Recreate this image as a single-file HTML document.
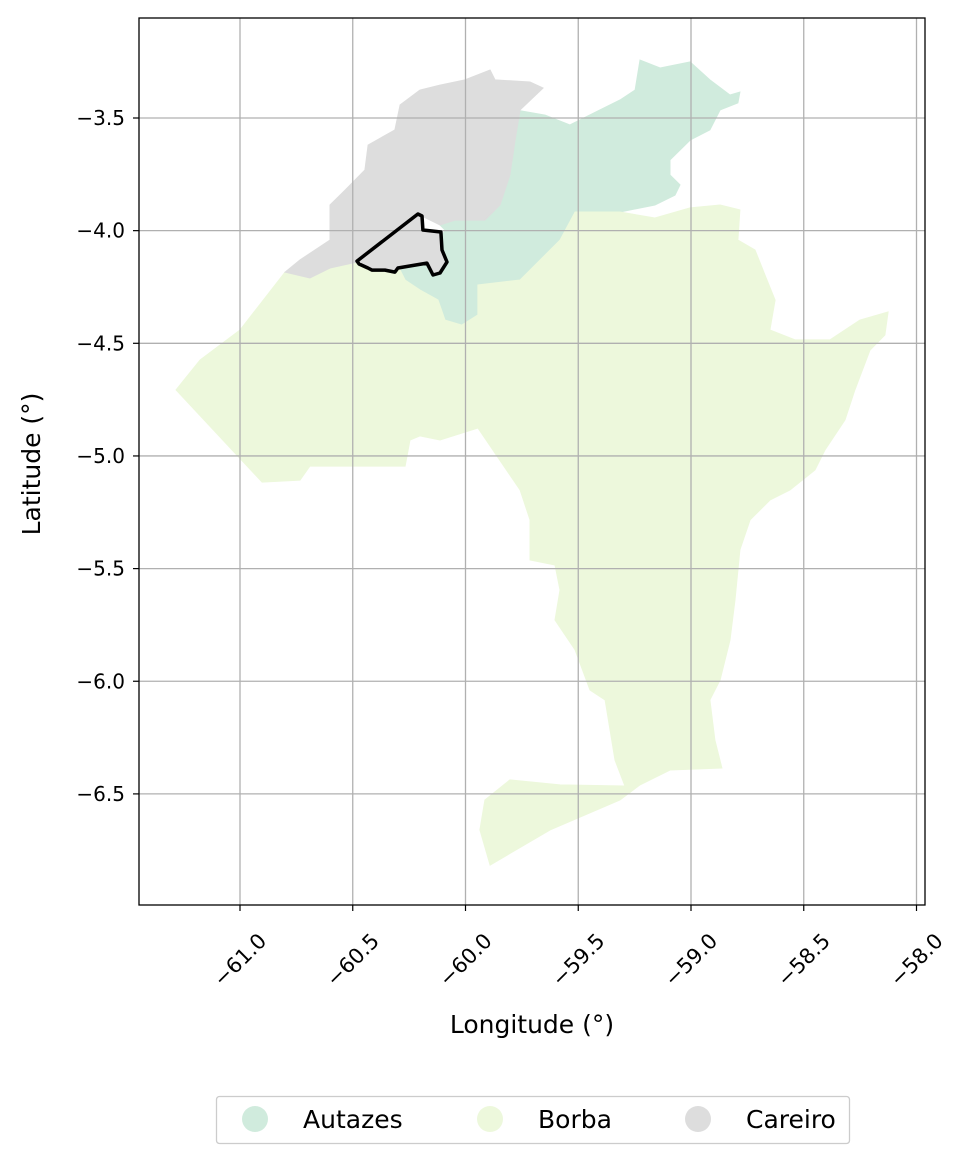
<!DOCTYPE html>
<html><head><meta charset="utf-8"><style>
body{margin:0;background:#fff;}
svg{display:block;font-family:"DejaVu Sans","Liberation Sans",sans-serif;}
</style></head><body>
<svg id="chart" width="974" height="1163"></svg>
<script>
const xTicks=[-61.0,-60.5,-60.0,-59.5,-59.0,-58.5,-58.0];
const yTicks=[-3.5,-4.0,-4.5,-5.0,-5.5,-6.0,-6.5];
const regionNames=["Autazes","Borba","Careiro"];
const regionColors=["#d0ebdd","#edf8dc","#dddddd"];
const autazesLon=[-59.780,-59.647,-59.537,-59.404,-59.315,-59.248,-59.226,-59.137,-59.004,-58.916,-58.827,-58.783,-58.792,-58.871,-58.916,-59.004,-59.093,-59.093,-59.049,-59.071,-59.160,-59.315,-59.514,-59.581,-59.758,-59.945,-59.945,-60.016,-60.091,-60.122,-60.202,-60.268,-60.290,-60.157,-60.113,-60.091,-60.113,-60.047,-59.914,-59.847,-59.803,-59.780];
const autazesLat=[-3.464,-3.487,-3.531,-3.464,-3.420,-3.376,-3.243,-3.278,-3.251,-3.331,-3.398,-3.385,-3.433,-3.464,-3.553,-3.598,-3.686,-3.753,-3.797,-3.842,-3.886,-3.917,-3.917,-4.042,-4.219,-4.241,-4.374,-4.419,-4.397,-4.308,-4.263,-4.219,-4.175,-4.086,-4.042,-3.997,-3.975,-3.953,-3.953,-3.886,-3.753,-3.598];
const borbaLon=[-61.284,-61.177,-61.000,-60.800,-60.690,-60.601,-60.481,-60.290,-60.268,-60.202,-60.122,-60.091,-60.016,-59.945,-59.945,-59.758,-59.581,-59.514,-59.315,-59.160,-59.004,-58.871,-58.783,-58.792,-58.716,-58.672,-58.627,-58.650,-58.539,-58.384,-58.251,-58.126,-58.140,-58.206,-58.273,-58.317,-58.406,-58.450,-58.561,-58.650,-58.738,-58.783,-58.805,-58.827,-58.871,-58.916,-58.894,-58.863,-59.093,-59.226,-59.315,-59.625,-59.891,-59.936,-59.914,-59.803,-59.581,-59.293,-59.337,-59.381,-59.448,-59.514,-59.603,-59.581,-59.603,-59.714,-59.714,-59.758,-59.945,-60.113,-60.202,-60.246,-60.268,-60.690,-60.734,-60.902];
const borbaLat=[-4.707,-4.574,-4.441,-4.184,-4.210,-4.166,-4.139,-4.175,-4.219,-4.263,-4.308,-4.397,-4.419,-4.374,-4.241,-4.219,-4.042,-3.917,-3.917,-3.944,-3.899,-3.886,-3.908,-4.042,-4.086,-4.197,-4.308,-4.441,-4.485,-4.485,-4.397,-4.361,-4.463,-4.530,-4.707,-4.840,-4.974,-5.062,-5.151,-5.196,-5.284,-5.417,-5.639,-5.817,-5.994,-6.083,-6.261,-6.385,-6.394,-6.460,-6.527,-6.660,-6.816,-6.660,-6.527,-6.438,-6.460,-6.465,-6.350,-6.083,-6.039,-5.861,-5.728,-5.595,-5.484,-5.462,-5.284,-5.151,-4.876,-4.929,-4.911,-4.929,-5.045,-5.045,-5.107,-5.116];
const careiroLon=[-60.800,-60.734,-60.601,-60.601,-60.534,-60.446,-60.432,-60.313,-60.290,-60.202,-60.113,-60.002,-59.891,-59.869,-59.714,-59.656,-59.758,-59.780,-59.803,-59.847,-59.914,-60.047,-60.113,-60.202,-60.481,-60.601,-60.690];
const careiroLat=[-4.184,-4.130,-4.042,-3.886,-3.820,-3.731,-3.620,-3.553,-3.442,-3.376,-3.354,-3.331,-3.287,-3.331,-3.340,-3.367,-3.464,-3.598,-3.753,-3.886,-3.953,-3.953,-3.975,-3.931,-4.139,-4.166,-4.210];
const selLon=[-60.481,-60.211,-60.193,-60.189,-60.109,-60.104,-60.082,-60.113,-60.144,-60.171,-60.300,-60.313,-60.357,-60.415,-60.433,-60.472];
const selLat=[-4.135,-3.926,-3.935,-3.997,-4.006,-4.086,-4.139,-4.188,-4.197,-4.144,-4.166,-4.184,-4.175,-4.175,-4.166,-4.148];

const NS="http://www.w3.org/2000/svg";
const svg=document.getElementById('chart');
const L=139,R=925,T=18,B=905;
function xs(v){return 240+(v+61)*225.5;}
function ys(v){return 118+(-3.5-v)*225.3;}
function mk(tag,attrs,parent){const e=document.createElementNS(NS,tag);for(const k in attrs)e.setAttribute(k,attrs[k]);(parent||svg).appendChild(e);return e;}
function pts(lo,la){return lo.map((v,i)=>xs(v).toFixed(1)+','+ys(la[i]).toFixed(1)).join(' ');}

const clip=mk('clipPath',{id:'ax'});mk('rect',{x:L,y:T,width:R-L,height:B-T},clip);
const polys=[[autazesLon,autazesLat],[borbaLon,borbaLat],[careiroLon,careiroLat]];
const g=mk('g',{'clip-path':'url(#ax)'});
polys.forEach((p,i)=>{
  const el=mk('polygon',{points:pts(p[0],p[1]),fill:regionColors[i],stroke:regionColors[i],'stroke-width':'1'},g);
  
  
});
const selFill=mk('polygon',{points:pts(selLon,selLat),fill:'#dddddd',stroke:'none'},g);


xTicks.forEach(t=>{
  const ln=mk('line',{x1:xs(t),x2:xs(t),y1:T,y2:B,stroke:'#b0b0b0','stroke-width':'1.3'},g);
  
  
});
yTicks.forEach(t=>{
  const ln=mk('line',{x1:L,x2:R,y1:ys(t),y2:ys(t),stroke:'#b0b0b0','stroke-width':'1.3'},g);
  
  
});
const sel=mk('polygon',{points:pts(selLon,selLat),fill:'none',stroke:'#000','stroke-width':'3.5','stroke-linejoin':'round'},g);



const frame=mk('rect',{x:L,y:T,width:R-L,height:B-T,fill:'none',stroke:'#000','stroke-width':'1.3'});



xTicks.forEach(t=>{
  const x=xs(t);
  mk('line',{x1:x,x2:x,y1:B,y2:B+6,stroke:'#000','stroke-width':'1.2'});
  const ax=x, ay=960;
  const tx=mk('text',{x:ax,y:ay,'font-size':'21','text-anchor':'middle',transform:`rotate(-45 ${ax} ${ay})`,'dominant-baseline':'central'});
  tx.textContent=t.toFixed(1).replace('-','\u2212');
  
  
});
yTicks.forEach(t=>{
  const y=ys(t);
  mk('line',{x1:L-6,x2:L,y1:y,y2:y,stroke:'#000','stroke-width':'1.2'});
  const tx=mk('text',{x:L-14,y:y+7,'font-size':'20','text-anchor':'end'});
  tx.textContent=t.toFixed(1).replace('-','\u2212');
  
  
});
const xl=mk('text',{x:532,y:1033,'font-size':'25','text-anchor':'middle'});xl.textContent='Longitude (°)';


const yl=mk('text',{x:40,y:464,'font-size':'25','text-anchor':'middle',transform:'rotate(-90 40 464)'});yl.textContent='Latitude (°)';



const lg=mk('g',{});


mk('rect',{x:216.5,y:1096.5,width:633,height:47,rx:3,fill:'#fff',stroke:'#ccc','stroke-width':'1.3'},lg);
const lgX=[255,490,698];
regionNames.forEach((n,i)=>{
  const c=mk('circle',{cx:lgX[i],cy:1119,r:13,fill:regionColors[i]},lg);
  
  
  const t=mk('text',{x:lgX[i]+48,y:1128,'font-size':'25'},lg);
  t.textContent=n;
  
  
});
</script>
</body></html>
